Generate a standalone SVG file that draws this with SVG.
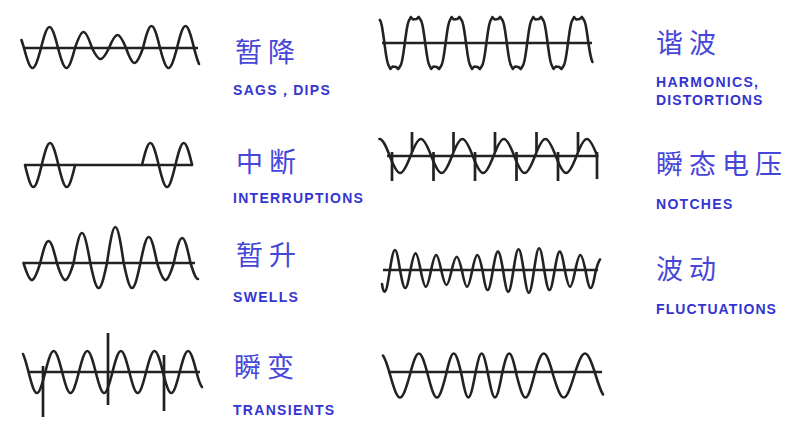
<svg xmlns="http://www.w3.org/2000/svg" width="809" height="436" viewBox="0 0 809 436">
<style>
.w{fill:none;stroke:#222;stroke-width:2.6;stroke-linejoin:round;stroke-linecap:round}
.ax{fill:none;stroke:#222;stroke-width:2.3}
.sp{fill:none;stroke:#222;stroke-width:2.7;stroke-linecap:butt}
.cn{font-family:"Noto Sans CJK SC","Noto Sans CJK JP",sans-serif;font-size:27px;fill:#4646d8;letter-spacing:6px}
.en{font-family:"Liberation Sans",Arial,sans-serif;font-weight:bold;font-size:14px;fill:#3434d0;letter-spacing:1.3px}
</style>
<rect width="809" height="436" fill="#fff"/>

<g id="sags">
<line class="ax" x1="25" y1="48" x2="198" y2="48"/>
<path class="w" d="M21.5,40 C22.5,43 23.2,45.5 24,48 c7.1,26.7 9.9,26.7 17,0 c7.1,-28 9.9,-28 17,0 c7.1,26.7 9.9,26.7 17,0 c7.1,-21.3 9.9,-21.3 17,0 c7.1,14.7 9.9,14.7 17,0 c7.1,-17.3 9.9,-17.3 17,0 c7.1,20 9.9,20 17,0 c7.1,-29.3 9.9,-29.3 17,0 c7.1,26.7 9.9,26.7 17,0 c7.1,-29.3 9.9,-29.3 17,0 c1.7,6.2 3.3,12.3 5,16"/>
<text class="cn" x="235" y="62">暂降</text>
<text class="en" x="233" y="95">SAGS，DIPS</text>
</g>

<g id="interruptions">
<line class="ax" x1="25" y1="165" x2="192" y2="165"/>
<path class="w" d="M25,165 c7,29.3 9.7,29.3 16.7,0 c7,-29.3 9.7,-29.3 16.7,0 c7,29.3 9.7,29.3 16.7,0"/>
<path class="w" d="M142,165 c7,-29.3 9.7,-29.3 16.7,0 c7,29.3 9.7,29.3 16.7,0 c7,-29.3 9.7,-29.3 16.7,0"/>
<text class="cn" x="236" y="172">中断</text>
<text class="en" x="233" y="203">INTERRUPTIONS</text>
</g>

<g id="swells">
<line class="ax" x1="23" y1="263" x2="195" y2="263"/>
<path class="w" d="M23.5,263 c7,22.7 9.7,22.7 16.7,0 c7,-29.3 9.7,-29.3 16.7,0 c7,22.7 9.7,22.7 16.7,0 c7,-40 9.7,-40 16.7,0 c7,33.3 9.7,33.3 16.7,0 c7,-48 9.7,-48 16.7,0 c7,33.3 9.7,33.3 16.7,0 c7,-34.7 9.7,-34.7 16.7,0 c7,22.7 9.7,22.7 16.7,0 c7,-33.3 9.7,-33.3 16.7,0 c2.5,8 5,16 7.5,16"/>
<text class="cn" x="236" y="265">暂升</text>
<text class="en" x="233" y="302">SWELLS</text>
</g>

<g id="transients">
<line class="ax" x1="28" y1="372" x2="200" y2="372"/>
<path class="w" d="M23,354 C24.8,357.7 26.7,364.8 28.5,372 c7.1,28 9.7,28 16.8,0 c7.1,-28 9.7,-28 16.8,0 c7.1,28 9.7,28 16.8,0 c7.1,-28 9.7,-28 16.8,0 c7.1,28 9.7,28 16.8,0 c7.1,-28 9.7,-28 16.8,0 c7.1,28 9.7,28 16.8,0 c7.1,-28 9.7,-28 16.8,0 c7.1,28 9.7,28 16.8,0 c7.1,-28 9.7,-28 16.8,0 c1.8,7.2 3.7,13 5.5,15"/>
<line class="sp" x1="43" y1="366" x2="43" y2="417"/>
<line class="sp" x1="108" y1="333" x2="108" y2="405"/>
<line class="sp" x1="164" y1="355" x2="164" y2="411"/>
<text class="cn" x="234" y="377">瞬变</text>
<text class="en" x="233" y="415">TRANSIENTS</text>
</g>

<g id="harmonics">
<line class="ax" x1="382" y1="43" x2="592" y2="43"/>
<path class="w" d="M379.9,20 c2,2 3,12 4.5,23 c1.5,11 2.5,21 4.5,23 l1.5,3 2.2,-2.5 3.5,0.5 2.2,2 2,-3
c2,-2 3,-12 4.5,-23 c1.5,-11 2.5,-21 4.5,-23 l1.5,-3 2.2,2.5 3.5,-0.5 2.2,-2 2,3 c2,2 3,12 4.5,23 c1.5,11 2.5,21 4.5,23 l1.5,3 2.2,-2.5 3.5,0.5 2.2,2 2,-3
c2,-2 3,-12 4.5,-23 c1.5,-11 2.5,-21 4.5,-23 l1.5,-3 2.2,2.5 3.5,-0.5 2.2,-2 2,3 c2,2 3,12 4.5,23 c1.5,11 2.5,21 4.5,23 l1.5,3 2.2,-2.5 3.5,0.5 2.2,2 2,-3
c2,-2 3,-12 4.5,-23 c1.5,-11 2.5,-21 4.5,-23 l1.5,-3 2.2,2.5 3.5,-0.5 2.2,-2 2,3 c2,2 3,12 4.5,23 c1.5,11 2.5,21 4.5,23 l1.5,3 2.2,-2.5 3.5,0.5 2.2,2 2,-3
c2,-2 3,-12 4.5,-23 c1.5,-11 2.5,-21 4.5,-23 l1.5,-3 2.2,2.5 3.5,-0.5 2.2,-2 2,3 c2,2 3,12 4.5,23 c1.5,11 2.5,21 4.5,23 l1.5,3 2.2,-2.5 3.5,0.5 2.2,2 2,-3
c2,-2 3,-12 4.5,-23 c1.5,-11 2.5,-21 4.5,-23 l1.5,-3 2.2,2.5 3.5,-0.5 2.2,-2 2,3 c2,2 3,12 4.5,23 c1.2,8 2.5,16 4,19"/>
<text class="cn" x="656" y="53">谐波</text>
<text class="en" x="656" y="87">HARMONICS,</text>
<text class="en" x="656" y="105" style="letter-spacing:1.1px">DISTORTIONS</text>
</g>

<g id="notches">
<line class="ax" x1="387" y1="156" x2="598" y2="156"/>
<path class="w" d="M379.4,139 c3.73,0 6.9,8.07 10.35,17 c8.7,22.7 12.05,22.7 20.75,0 c8.7,-22.7 12.05,-22.7 20.75,0 c8.7,22.7 12.05,22.7 20.75,0 c8.7,-22.7 12.05,-22.7 20.75,0 c8.7,22.7 12.05,22.7 20.75,0 c8.7,-22.7 12.05,-22.7 20.75,0 c8.7,22.7 12.05,22.7 20.75,0 c8.7,-22.7 12.05,-22.7 20.75,0 c8.7,22.7 12.05,22.7 20.75,0 c8.7,-22.7 12.05,-22.7 20.75,0"/>
<path class="sp" d="M392,152V181 M433.5,152V181 M475,152V181 M516.5,152V181 M558,152V181 M597,152V179 M412,152V132 M453.5,152V132 M495,152V132 M536.5,152V132 M578,152V132"/>
<text class="cn" x="656" y="174">瞬态电压</text>
<text class="en" x="656" y="208.5">NOTCHES</text>
</g>

<g id="fluctuations">
<line class="ax" x1="383" y1="270" x2="598" y2="270"/>
<path class="w" d="M382,284 Q383,291.7 384.65,291.7 c1.85,0 3.43,-10 5.15,-21.2 c4.3,-27.3 6,-27.3 10.3,0 c4.3,23.3 6,23.3 10.3,0 c4.3,-22.9 6,-22.9 10.3,0 c4.3,21.6 6,21.6 10.3,0 c4.3,-20.7 6,-20.7 10.3,0 c4.3,19.3 6,19.3 10.3,0 c4.3,-18.4 6,-18.4 10.3,0 c4.3,21.6 6,21.6 10.3,0 c4.3,-20.7 6,-20.7 10.3,0 c4.3,26 6,26 10.3,0 c4.3,-25.1 6,-25.1 10.3,0 c4.3,28.3 6,28.3 10.3,0 c4.3,-28.3 6,-28.3 10.3,0 c4.3,29.6 6,29.6 10.3,0 c4.3,-29.6 6,-29.6 10.3,0 c4.3,26 6,26 10.3,0 c4.3,-25.1 6,-25.1 10.3,0 c4.3,21.6 6,21.6 10.3,0 c4.3,-20.7 6,-20.7 10.3,0 c4.3,23.3 6,23.3 10.3,0 c1.5,-5 3,-9.5 4.2,-11"/>
<text class="cn" x="656" y="279">波动</text>
<text class="en" x="656" y="313.5" style="letter-spacing:1.1px">FLUCTUATIONS</text>
</g>

<g id="sine">
<line class="ax" x1="388" y1="372" x2="602" y2="372"/>
<path class="w" d="M383,355.5 c2.4,3.2 4.9,11.5 7.3,20 c8.1,29.3 11.3,29.3 19.4,0 c7.7,-29.3 10.6,-29.3 18.3,0 c7.5,29.3 10.3,29.3 17.8,0 c6.7,-29.3 9.2,-29.3 15.9,0 c5.6,29.3 7.7,29.3 13.3,0 c5.6,-29.3 7.7,-29.3 13.3,0 c5.6,29.3 7.8,29.3 13.4,0 c6.3,-29.3 8.7,-29.3 15,0 c7.4,29.3 10.1,29.3 17.5,0 c8,-29.3 11.1,-29.3 19.1,0 c8.8,29.3 12.1,29.3 20.9,0 c9.1,-29.3 12.5,-29.3 21.6,0 c2.4,8 4.8,15 7.2,19"/>
</g>
</svg>
